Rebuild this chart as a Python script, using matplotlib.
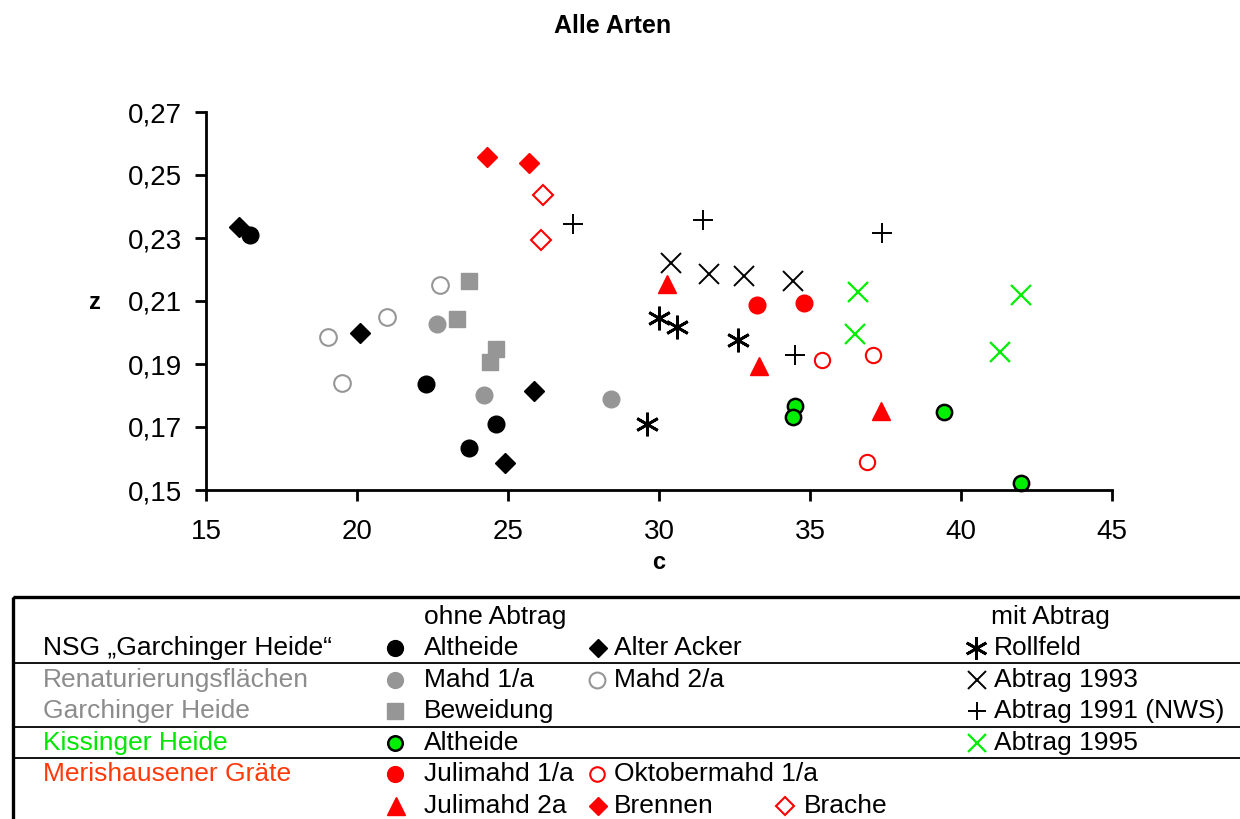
import matplotlib
matplotlib.use("Agg")
import matplotlib.pyplot as plt
from matplotlib.patches import Rectangle
from matplotlib.ticker import FixedLocator, FuncFormatter

plt.rcParams['font.family'] = ['Liberation Sans', 'DejaVu Sans']

# NSG Garchinger Heide, ohne Abtrag
altheide_c = [16.45, 22.3, 24.6, 23.7]
altheide_z = [0.2310, 0.1835, 0.1710, 0.1633]
acker_c = [16.1, 20.1, 25.85, 24.9]
acker_z = [0.2335, 0.1997, 0.1815, 0.1585]

# Renaturierungsflächen Garchinger Heide
mahd1_c = [22.65, 24.2, 28.4]
mahd1_z = [0.2027, 0.1803, 0.1789]
mahd2_c = [19.05, 21.0, 22.75, 19.5]
mahd2_z = [0.1985, 0.2050, 0.2152, 0.1840]
beweidung_c = [23.7, 23.3, 24.6, 24.4]
beweidung_z = [0.2165, 0.2043, 0.1948, 0.1906]

# Kissinger Heide
kiss_c = [34.5, 34.45, 39.45, 42.0]
kiss_z = [0.1767, 0.1733, 0.1747, 0.1523]

# Merishausener Gräte
juli1_c = [33.25, 34.8]
juli1_z = [0.2087, 0.2095]
juli2_c = [30.25, 33.3, 37.35]
juli2_z = [0.2153, 0.1893, 0.1750]
oktober_c = [35.4, 37.1, 36.9]
oktober_z = [0.1913, 0.1927, 0.1588]
brennen_c = [24.3, 25.7]
brennen_z = [0.2558, 0.2537]
brache_c = [26.15, 26.1]
brache_z = [0.2435, 0.2293]

# mit Abtrag
rollfeld_c = [30.0, 30.6, 32.6, 29.6]
rollfeld_z = [0.2047, 0.2017, 0.1975, 0.1708]
abtrag93_c = [30.4, 31.65, 32.8, 34.45]
abtrag93_z = [0.2222, 0.2186, 0.2178, 0.2163]
abtrag91_c = [27.15, 31.45, 37.4, 34.5]
abtrag91_z = [0.2343, 0.2357, 0.2315, 0.1930]
abtrag95_c = [36.6, 36.5, 42.0, 41.3]
abtrag95_z = [0.2127, 0.1995, 0.2118, 0.1938]

x_ticks = [15, 20, 25, 30, 35, 40, 45]
y_ticks = [0.15, 0.17, 0.19, 0.21, 0.23, 0.25, 0.27]

GREY = '#969696'
RED = '#ff0000'
GREEN = '#00ee00'
ASTER = (6, 2, 0)

styles = {
    'altheide': dict(marker='o', ms=12, color='black', ls='none'),
    'acker': dict(marker='D', ms=10, color='black', ls='none'),
    'mahd1': dict(marker='o', ms=12, color=GREY, ls='none'),
    'mahd2': dict(marker='o', ms=12, mfc='white', mec=GREY, mew=1.5, ls='none'),
    'beweidung': dict(marker='s', ms=12, color=GREY, ls='none'),
    'kiss': dict(marker='o', ms=11, mfc=GREEN, mec='black', mew=1.8, ls='none'),
    'juli1': dict(marker='o', ms=12, color=RED, ls='none'),
    'juli2': dict(marker='^', ms=13, color=RED, ls='none'),
    'oktober': dict(marker='o', ms=11, mfc='white', mec=RED, mew=1.5, ls='none'),
    'brennen': dict(marker='D', ms=10, color=RED, ls='none'),
    'brache': dict(marker='D', ms=10, mfc='white', mec=RED, mew=1.5, ls='none'),
    'rollfeld': dict(marker=ASTER, ms=17, color='black', mew=2.0, ls='none'),
    'abtrag93': dict(marker='x', ms=14, color='black', mew=1.4, ls='none'),
    'abtrag91': dict(marker='+', ms=14, color='black', mew=1.4, ls='none'),
    'abtrag95': dict(marker='x', ms=14, color=GREEN, mew=1.6, ls='none'),
}

W, H = 1240, 819
fig = plt.figure(figsize=(12.4, 8.19), dpi=100)
ax = fig.add_axes([206 / W, 1 - 490 / H, (1112 - 206) / W, (490 - 112) / H])

series = [
    ('altheide', altheide_c, altheide_z), ('acker', acker_c, acker_z),
    ('mahd1', mahd1_c, mahd1_z), ('mahd2', mahd2_c, mahd2_z),
    ('beweidung', beweidung_c, beweidung_z), ('kiss', kiss_c, kiss_z),
    ('juli1', juli1_c, juli1_z), ('juli2', juli2_c, juli2_z),
    ('oktober', oktober_c, oktober_z), ('brennen', brennen_c, brennen_z),
    ('brache', brache_c, brache_z), ('rollfeld', rollfeld_c, rollfeld_z),
    ('abtrag93', abtrag93_c, abtrag93_z), ('abtrag91', abtrag91_c, abtrag91_z),
    ('abtrag95', abtrag95_c, abtrag95_z),
]
for key, c, z in series:
    ax.plot(c, z, clip_on=False, **styles[key])

ax.set_xlim(15, 45)
ax.set_ylim(0.15, 0.27)
ax.xaxis.set_major_locator(FixedLocator(x_ticks))
ax.yaxis.set_major_locator(FixedLocator(y_ticks))
ax.yaxis.set_major_formatter(FuncFormatter(lambda v, p: f"{v:.2f}".replace('.', ',')))
for s in ('top', 'right'):
    ax.spines[s].set_visible(False)
for s in ('left', 'bottom'):
    ax.spines[s].set_linewidth(2)
ax.tick_params(direction='out', length=8, width=2, labelsize=20)
ax.tick_params(axis='x', pad=13)
ax.tick_params(axis='y', pad=9.5)
ax.set_xlabel('c', fontsize=17, fontweight='bold')
ax.set_ylabel('z', fontsize=17, fontweight='bold', rotation=0)
ax.xaxis.set_label_coords(0.50, -0.193)
ax.yaxis.set_label_coords(-0.1225, 0.497)
ax.xaxis.label.set_va('center')
ax.yaxis.label.set_va('center')
ax.yaxis.label.set_ha('center')

fig.text(612.5 / W, 1 - 26 / H, 'Alle Arten', ha='center', va='center',
         fontsize=18, fontweight='bold')

# Legend table drawn in pixel coordinates
lg = fig.add_axes([0, 0, 1, 1], facecolor='none')
lg.set_xlim(0, W)
lg.set_ylim(H, 0)
lg.set_axis_off()
lg.add_patch(Rectangle((13, 597), 1300, 300, fill=False, lw=2.4, ec='black'))
for yy in (663, 727, 758):
    lg.plot([13, W], [yy, yy], color='black', lw=1.3)

FS = 19
rows = [617, 648, 680, 711, 743, 774, 806]
txt = dict(fontsize=FS, va='center', ha='left')
lg.text(424, rows[0], 'ohne Abtrag', **txt)
lg.text(991, rows[0], 'mit Abtrag', **txt)

lg.text(43, rows[1], 'NSG „Garchinger Heide“', color='black', **txt)
lg.text(43, rows[2], 'Renaturierungsflächen', color='#8c8c8c', **txt)
lg.text(43, rows[3], 'Garchinger Heide', color='#8c8c8c', **txt)
lg.text(43, rows[4], 'Kissinger Heide', color='#00e600', **txt)
lg.text(43, rows[5], 'Merishausener Gräte', color='#ff3a0a', **txt)

entries = [
    ('altheide', 395, 424, rows[1], 'Altheide'),
    ('acker', 598, 614, rows[1], 'Alter Acker'),
    ('rollfeld', 976, 994, rows[1], 'Rollfeld'),
    ('mahd1', 395, 424, rows[2], 'Mahd 1/a'),
    ('mahd2', 597, 614, rows[2], 'Mahd 2/a'),
    ('abtrag93', 977, 994, rows[2], 'Abtrag 1993'),
    ('beweidung', 395, 424, rows[3], 'Beweidung'),
    ('abtrag91', 977, 994, rows[3], 'Abtrag 1991 (NWS)'),
    ('kiss', 395, 424, rows[4], 'Altheide'),
    ('abtrag95', 977, 994, rows[4], 'Abtrag 1995'),
    ('juli1', 395, 424, rows[5], 'Julimahd 1/a'),
    ('oktober', 597, 614, rows[5], 'Oktobermahd 1/a'),
    ('juli2', 396, 424, rows[6], 'Julimahd 2a'),
    ('brennen', 598, 614, rows[6], 'Brennen'),
    ('brache', 785, 804, rows[6], 'Brache'),
]
for key, mx, tx, ty, label in entries:
    st = dict(styles[key])
    st['ms'] = st['ms'] * 0.95
    lg.plot([mx], [ty], clip_on=False, **st)
    lg.text(tx, ty, label, **txt)

fig.savefig('out.png', dpi=100)
